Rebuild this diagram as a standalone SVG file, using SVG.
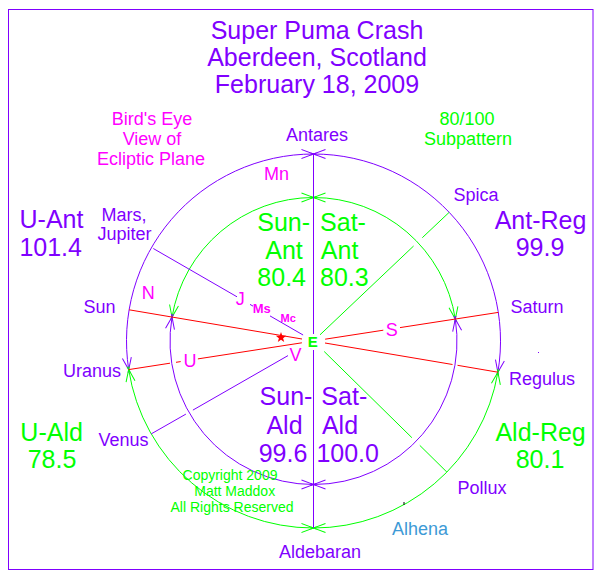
<svg xmlns="http://www.w3.org/2000/svg" width="600" height="579" viewBox="0 0 600 579">
<style>
text{font-family:"Liberation Sans",Arial,sans-serif;text-anchor:middle}
.p{fill:#8000ff}.g{fill:#00ff00}.m{fill:#ff00ff}
.lbl{font-size:18px}.big{font-size:25px}.ttl{font-size:25px}.cp{font-size:14px}
.lp{stroke:#8000ff;stroke-width:1;fill:none}
.lg{stroke:#00ff00;stroke-width:1;fill:none}
.lr{stroke:#ff0000;stroke-width:1;fill:none}
</style>
<defs>
<marker id="ap" viewBox="-15 -8 20 16" refX="0" refY="0" markerWidth="20" markerHeight="16" markerUnits="userSpaceOnUse" orient="auto-start-reverse"><path d="M-12,-4.5 L3,1.1 M-12,4.5 L3,-1.1" fill="none" stroke="#8000ff" stroke-width="1"/></marker>
<marker id="ag" viewBox="-15 -8 20 16" refX="0" refY="0" markerWidth="20" markerHeight="16" markerUnits="userSpaceOnUse" orient="auto-start-reverse"><path d="M-12,-4.5 L3,1.1 M-12,4.5 L3,-1.1" fill="none" stroke="#00ff00" stroke-width="1"/></marker>
</defs>
<rect x="0" y="0" width="600" height="579" fill="#ffffff"/>
<rect x="8.5" y="9.5" width="584.5" height="560" fill="none" stroke="#8000ff" stroke-width="1"/>

<g id="title">
<text class="p ttl" x="317" y="39">Super Puma Crash</text>
<text class="p ttl" x="317" y="66">Aberdeen, Scotland</text>
<text class="p ttl" x="317" y="93">February 18, 2009</text>
</g>
<g id="birdseye">
<text class="m lbl" x="152" y="124.5">Bird's Eye</text>
<text class="m lbl" x="152" y="145">View of</text>
<text class="m lbl" x="151" y="165">Ecliptic Plane</text>
</g>
<g id="subpattern">
<text class="g lbl" x="467" y="124.5">80/100</text>
<text class="g lbl" x="468" y="145">Subpattern</text>
</g>

<g id="connectors">
<!-- outer circle -->
<path class="lp" marker-start="url(#ap)" marker-end="url(#ap)" d="M128.7,369.6 A187,187 0 0 1 313.5,154"/>
<path class="lp" marker-start="url(#ap)" marker-end="url(#ap)" d="M313.5,154 A187,187 0 0 1 497.9,372.2"/>
<path class="lg" marker-start="url(#ag)" marker-end="url(#ag)" d="M128.7,369.6 A187,187 0 0 0 313.5,528"/>
<path class="lg" marker-start="url(#ag)" marker-end="url(#ag)" d="M313.5,528 A187,187 0 0 0 497.9,372.2"/>
<!-- inner circle -->
<path class="lg" marker-start="url(#ag)" marker-end="url(#ag)" d="M172,317.1 A143.5,143.5 0 0 1 313.5,197.5"/>
<path class="lg" marker-start="url(#ag)" marker-end="url(#ag)" d="M313.5,197.5 A143.5,143.5 0 0 1 455.3,319"/>
<path class="lp" marker-start="url(#ap)" marker-end="url(#ap)" d="M172,317.1 A143.5,143.5 0 0 0 313.5,484.5"/>
<path class="lp" marker-start="url(#ap)" marker-end="url(#ap)" d="M313.5,484.5 A143.5,143.5 0 0 0 455.3,319"/>
<!-- vertical axis -->
<path class="lp" d="M313.5,154 V334 M313.5,350 V528"/>
<!-- red lines -->
<path class="lr" d="M129.1,309.8 L302,339 M325,343 L452.5,364.5 M457.5,365.3 L497.9,372.2"/>
<path class="lr" d="M128.7,369.6 L170,363.2 M176,362.3 L180.7,361.6 M197.9,358.9 L301.9,342.8 M325.1,339.2 L383.3,330.2 M400,327.6 L498.3,312.4"/>
<!-- Mars/Jupiter -->
<path class="lp" d="M153.3,248.5 L237,296.8 M250,304.4 L253,306.1 M270,315.9 L303.1,335"/>
<!-- Venus -->
<path class="lp" d="M151.2,433.9 L185.9,414.1 M192.9,410.1 L288,355.6"/>
<!-- Spica -->
<path class="lg" d="M449.2,212.3 L422.3,237.7 M413.6,246 L320,334.8"/>
<!-- Pollux -->
<path class="lg" d="M446.9,472.1 L419.8,445.4 M411.9,437.7 L324.2,351.5"/>
</g>

<g id="antares"><text class="p lbl" x="317" y="140.7">Antares</text></g>
<g id="mn"><text class="m lbl" x="276.5" y="180">Mn</text></g>
<g id="spica"><text class="p lbl" x="476" y="201">Spica</text></g>
<g id="marsjupiter">
<text class="p lbl" x="124" y="220.5">Mars,</text>
<text class="p lbl" x="124.5" y="240">Jupiter</text>
</g>
<g id="uant">
<text class="p big" x="51.5" y="228">U-Ant</text>
<text class="p big" x="50.7" y="255.5">101.4</text>
</g>
<g id="antreg">
<text class="p big" x="540.5" y="229">Ant-Reg</text>
<text class="p big" x="540" y="255.5">99.9</text>
</g>
<g id="sunant">
<text class="g big" x="283.7" y="230.8">Sun-</text>
<text class="g big" x="284" y="258.5">Ant</text>
<text class="g big" x="281.7" y="286.2">80.4</text>
</g>
<g id="satant">
<text class="g big" x="343" y="230.8">Sat-</text>
<text class="g big" x="339.6" y="258.5">Ant</text>
<text class="g big" x="344.4" y="286.2">80.3</text>
</g>
<g id="sunald">
<text class="p big" x="286" y="405">Sun-</text>
<text class="p big" x="284.5" y="434">Ald</text>
<text class="p big" x="283" y="461.6">99.6</text>
</g>
<g id="satald">
<text class="p big" x="344.3" y="405">Sat-</text>
<text class="p big" x="340" y="434">Ald</text>
<text class="p big" x="347.7" y="461.6">100.0</text>
</g>
<g id="node-n"><text class="m lbl" x="148.3" y="299.3">N</text></g>
<g id="sun"><text class="p lbl" x="99.5" y="312.5">Sun</text></g>
<g id="jupiter-j"><text class="m lbl" x="240.3" y="305">J</text></g>
<g id="mars-ms"><text class="m" x="261.8" y="313.3" font-size="13" font-weight="bold">Ms</text></g>
<g id="mercury-mc"><text class="m" x="288.2" y="321.7" font-size="11" font-weight="bold">Mc</text></g>
<g id="star"><polygon fill="#ff0000" points="281,332 282.3,335.7 286.2,335.8 283.1,338.2 284.2,342 281,339.7 277.8,342 278.9,338.2 275.8,335.8 279.7,335.7"/></g>
<g id="earth"><text class="g" x="312.8" y="346.7" font-size="15" font-weight="bold">E</text></g>
<g id="venus-v"><text class="m lbl" x="295.5" y="360.7">V</text></g>
<g id="saturn-s"><text class="m lbl" x="391.7" y="335.7">S</text></g>
<g id="uranus-u"><text class="m lbl" x="190" y="366.7">U</text></g>
<g id="saturn"><text class="p lbl" x="537" y="312.5">Saturn</text></g>
<g id="uranus"><text class="p lbl" x="92" y="376.5">Uranus</text></g>
<g id="regulus"><text class="p lbl" x="542" y="384.5">Regulus</text></g>
<g id="venus"><text class="p lbl" x="123.4" y="446">Venus</text></g>
<g id="uald">
<text class="g big" x="51.6" y="441.3">U-Ald</text>
<text class="g big" x="52" y="468.2">78.5</text>
</g>
<g id="aldreg">
<text class="g big" x="540.6" y="441.3">Ald-Reg</text>
<text class="g big" x="540" y="468.2">80.1</text>
</g>
<g id="pollux"><text class="p lbl" x="482" y="494">Pollux</text></g>
<g id="alhena"><text class="lbl" fill="#3d9ad6" x="420" y="535">Alhena</text></g>
<g id="aldebaran"><text class="p lbl" x="320" y="557.5">Aldebaran</text></g>
<g id="copyright">
<text class="g cp" x="230" y="480">Copyright 2009</text>
<text class="g cp" x="234.7" y="495.7">Matt Maddox</text>
<text class="g cp" x="232" y="511.7">All Rights Reserved</text>
</g>
<g id="marks">
<rect x="403.5" y="502" width="1" height="3" fill="#000000"/>
<rect x="538" y="352" width="1" height="1" fill="#8000ff"/>
</g>
</svg>
